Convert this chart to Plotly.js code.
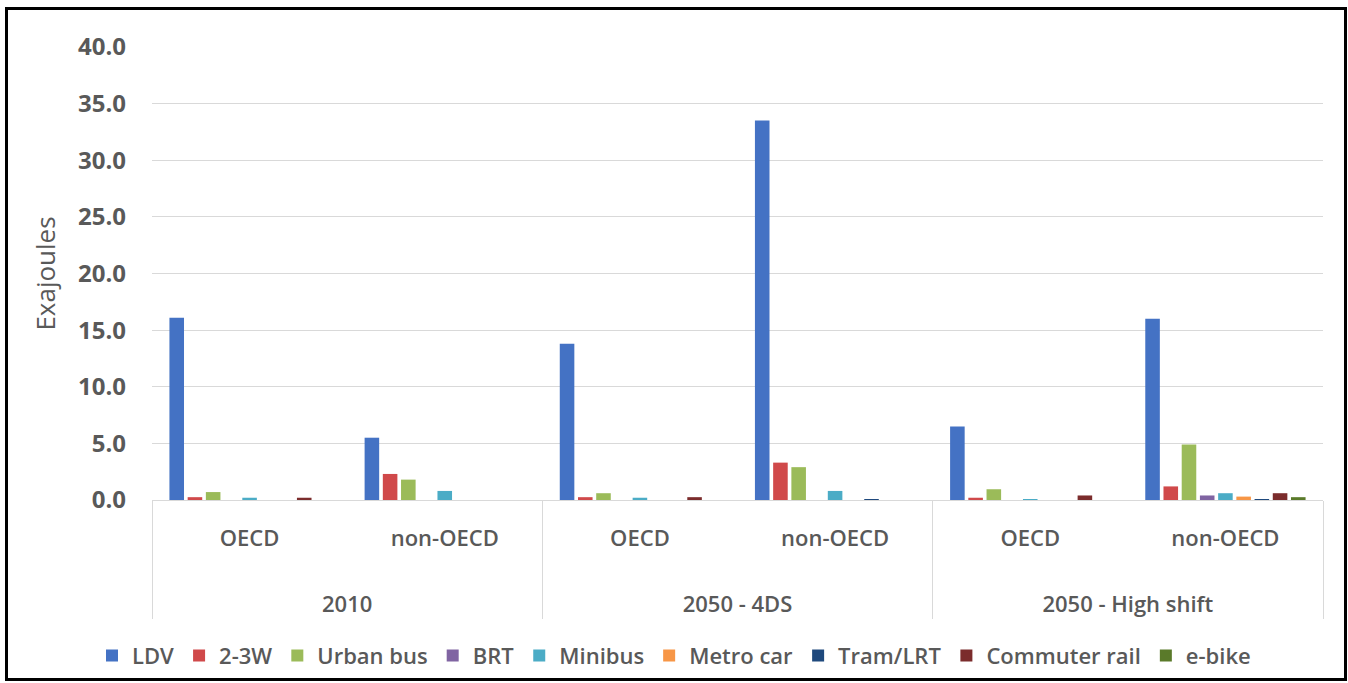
<!DOCTYPE html>
<html>
<head>
<meta charset="utf-8">
<script src="https://cdn.plot.ly/plotly-3.0.1.min.js"></script>
<style>
html,body{margin:0;padding:0;background:#fff;}
#wrap{position:relative;width:1348px;height:683px;}
#chart{width:1348px;height:683px;}
#frame{position:absolute;left:5px;top:7px;width:1336px;height:668px;border:3px solid #000;pointer-events:none;}
</style>
</head>
<body>
<div id="wrap"><div id="chart"></div><div id="frame"></div></div>
<script>
// Categories (outer: scenario/year, inner: region)
const years   = ['2010', '2010', '2050 - 4DS', '2050 - 4DS', '2050 - High shift', '2050 - High shift'];
const regions = ['OECD', 'non-OECD', 'OECD', 'non-OECD', 'OECD', 'non-OECD'];

// Series values (Exajoules)
const ldv          = [16.1, 5.5, 13.8, 33.5, 6.5, 16.0];
const twoThreeW    = [0.25, 2.3, 0.25, 3.3, 0.2, 1.2];
const urbanBus     = [0.7, 1.8, 0.6, 2.9, 0.95, 4.9];
const brt          = [0.0, 0.0, 0.0, 0.0, 0.0, 0.4];
const minibus      = [0.2, 0.8, 0.2, 0.8, 0.05, 0.6];
const metroCar     = [0.0, 0.0, 0.0, 0.0, 0.0, 0.3];
const tramLrt      = [0.0, 0.0, 0.0, 0.05, 0.0, 0.05];
const commuterRail = [0.2, 0.0, 0.25, 0.0, 0.4, 0.6];
const eBike        = [0.0, 0.0, 0.0, 0.0, 0.0, 0.25];

const seriesNames  = ['LDV', '2-3W', 'Urban bus', 'BRT', 'Minibus', 'Metro car', 'Tram/LRT', 'Commuter rail', 'e-bike'];
const seriesValues = [ldv, twoThreeW, urbanBus, brt, minibus, metroCar, tramLrt, commuterRail, eBike];
const seriesColors = ['#4472C4', '#D0494A', '#9BBB59', '#8064A2', '#4BACC6', '#F79646', '#1F497D', '#7B2C2C', '#5A7A2A'];

const yTicks = [0, 5, 10, 15, 20, 25, 30, 35, 40];

const FONT = 'Open Sans, Liberation Sans, sans-serif';
const GREY = '#595959';

// outer labels get leading blank lines so they sit lower, as in the reference
const outerLabels = years.map(y => '<br><br>' + y);

const traces = seriesNames.map((name, i) => ({
  type: 'bar',
  name: name,
  x: [outerLabels, regions],
  y: seriesValues[i],
  marker: {color: seriesColors[i], line: {width: 0}},
  hoverinfo: 'y+name'
}));

const layout = {
  width: 1348,
  height: 683,
  paper_bgcolor: '#ffffff',
  plot_bgcolor: '#ffffff',
  margin: {l: 152, r: 25, t: 47, b: 183},
  barmode: 'group',
  bargap: 0.16,
  bargroupgap: 0.2,
  showlegend: true,
  legend: {
    orientation: 'h',
    xref: 'container', yref: 'container',
    x: 0.5, xanchor: 'center',
    y: 0.04, yanchor: 'middle',
    font: {family: FONT, size: 22, color: GREY, weight: 600},
    itemwidth: 30,
    traceorder: 'normal'
  },
  xaxis: {
    type: 'multicategory',
    showgrid: false,
    showline: false,
    ticks: '',
    showdividers: true,
    dividercolor: '#d9d9d9',
    dividerwidth: 1,
    ticklabelstandoff: 23,
    tickfont: {family: FONT, size: 22, color: GREY, weight: 600},
    zeroline: false
  },
  yaxis: {
    range: [0, 40],
    tickvals: yTicks,
    ticktext: yTicks.map(v => v.toFixed(1)),
    showgrid: true,
    gridcolor: '#d9d9d9',
    gridwidth: 1,
    zeroline: true,
    zerolinecolor: '#d9d9d9',
    zerolinewidth: 1,
    showline: false,
    ticks: '',
    ticklabelstandoff: 25,
    tickfont: {family: FONT, size: 24, color: GREY, weight: 700},
    title: {text: 'Exajoules', standoff: 14, font: {family: FONT, size: 26, color: GREY}}
  }
};

Plotly.newPlot('chart', traces, layout, {displayModeBar: false});
</script>
</body>
</html>
